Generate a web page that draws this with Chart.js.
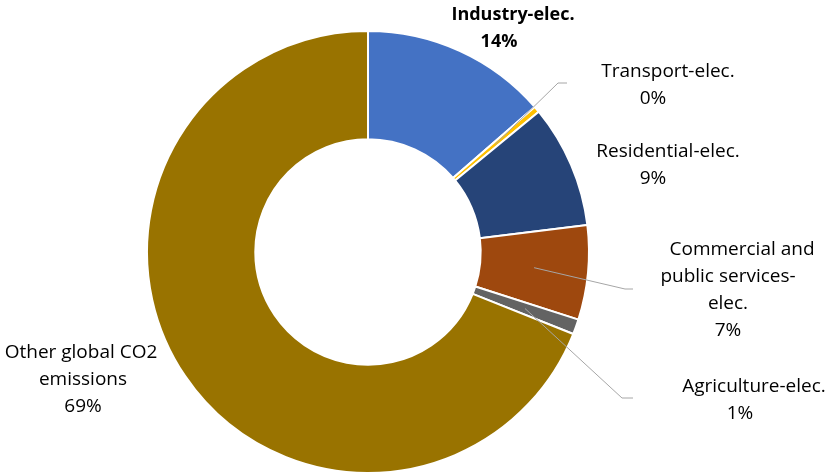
<!DOCTYPE html>
<html>
<head>
<meta charset="utf-8">
<script src="https://cdn.jsdelivr.net/npm/chart.js@4"></script>
<style>
  html, body { margin: 0; padding: 0; background: #fff; }
  #wrap { width: 827px; height: 474px; }
</style>
</head>
<body>
<div id="wrap"><canvas id="co2-chart" width="827" height="474"></canvas></div>
<script>
const sectors = [
    "Industry-elec.",
    "Transport-elec.",
    "Residential-elec.",
    "Commercial and public services-elec.",
    "Agriculture-elec.",
    "Other global CO2 emissions"
];
const shares = [13.6, 0.45, 9.0, 6.9, 1.1, 68.95];
const sliceColors = ["#4472C4", "#FFC000", "#264478", "#9E480E", "#636363", "#997300"];

// how each data label is laid out: wrapped name lines, centre, optional leader line
const labelLayout = [
    { lines: ["Industry-elec."], x: 499, y: 15, firstDx: 14, bold: true },
    { lines: ["Transport-elec."], x: 653, y: 72, firstDx: 15, leader: [[558, 83], [567, 83]] },
    { lines: ["Residential-elec."], x: 653, y: 152, firstDx: 15 },
    { lines: ["Commercial and", "public services-", "elec."], x: 728, y: 250, firstDx: 14, leader: [[625, 289], [633, 289]] },
    { lines: ["Agriculture-elec."], x: 740, y: 387, firstDx: 14, leader: [[622, 398], [633, 398]] },
    { lines: ["Other global CO2", "emissions"], x: 83, y: 353, firstDx: -2 }
];

const FONT = "'Open Sans'";
const FONT_SIZE = 19;
const BOLD_SIZE = 18;
const LINE_H = 27;

const labelsPlugin = {
    id: "sliceLabels",
    afterDraw(chart) {
        const ctx = chart.ctx;
        const meta = chart.getDatasetMeta(0);
        const values = chart.data.datasets[0].data;
        const total = values.reduce((a, b) => a + b, 0);

        ctx.save();
        meta.data.forEach((arc, i) => {
            const lay = labelLayout[i];
            if (lay.leader) {
                const p = arc.tooltipPosition();
                ctx.strokeStyle = "#A6A6A6";
                ctx.lineWidth = 1;
                ctx.beginPath();
                ctx.moveTo(p.x, p.y);
                lay.leader.forEach(pt => ctx.lineTo(pt[0], pt[1]));
                ctx.stroke();
            }

            const pct = Math.round(values[i] / total * 100) + "%";
            const lines = [...lay.lines, pct];
            ctx.fillStyle = "#000";
            ctx.textAlign = "center";
            ctx.textBaseline = "middle";
            ctx.font = lay.bold ? "bold " + BOLD_SIZE + "px " + FONT : FONT_SIZE + "px " + FONT;
            lines.forEach((txt, k) => {
                const dx = k === 0 ? lay.firstDx : 0;
                ctx.fillText(txt, lay.x + dx, lay.y + k * LINE_H);
            });
        });
        ctx.restore();
    }
};

new Chart(document.getElementById("co2-chart"), {
    type: "doughnut",
    data: {
        labels: sectors,
        datasets: [{
            data: shares,
            backgroundColor: sliceColors,
            borderColor: "#ffffff",
            borderWidth: 2
        }]
    },
    options: {
        responsive: false,
        animation: false,
        cutout: "51%",
        layout: { padding: { top: 30, bottom: 0, left: 146, right: 237 } },
        plugins: {
            legend: { display: false },
            tooltip: { enabled: false }
        }
    },
    plugins: [labelsPlugin]
});
</script>
</body>
</html>
